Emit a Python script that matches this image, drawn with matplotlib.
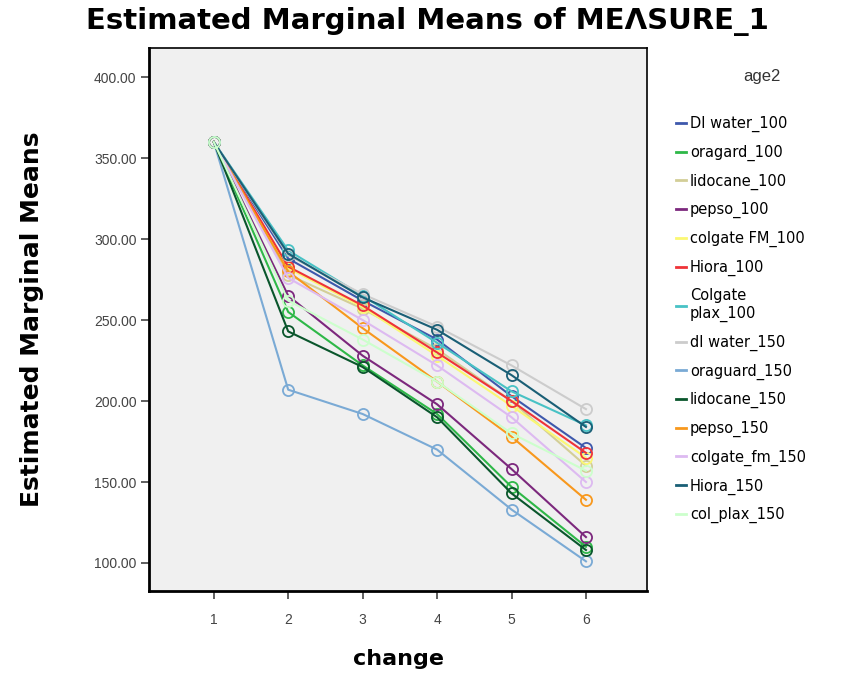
#!/usr/bin/env python3
import matplotlib
matplotlib.use("Agg")
import matplotlib.pyplot as plt
from matplotlib.lines import Line2D

plt.rcParams['font.family'] = ['Liberation Sans', 'DejaVu Sans']

change = [1, 2, 3, 4, 5, 6]

labels = ["DI water_100", "oragard_100", "lidocane_100", "pepso_100",
          "colgate FM_100", "Hiora_100", "Colgate\nplax_100", "dI water_150",
          "oraguard_150", "lidocane_150", "pepso_150", "colgate_fm_150",
          "Hiora_150", "col_plax_150"]

colors = ["#3E58AC", "#2EB848", "#D3CE97", "#7C287D", "#FBF873", "#EF3338",
          "#48C2C5", "#CCCCCC", "#7AAAD5", "#0A562C", "#F8981D", "#DDBAF1",
          "#1A5F76", "#CCFFCC"]

# means, one list per group
di_water_100 = [360, 288, 262, 238, 203, 171]
oragard_100 = [360, 255, 222, 192, 147, 110]
lidocane_100 = [360, 278, 257, 232, 200, 160]
pepso_100 = [360, 265, 228, 198, 158, 116]
colgate_fm_100 = [360, 282, 258, 228, 197, 165]
hiora_100 = [360, 283, 259, 230, 200, 168]
colgate_plax_100 = [360, 293, 265, 236, 206, 185]
di_water_150 = [360, 290, 266, 246, 222, 195]
oraguard_150 = [360, 207, 192, 170, 133, 101]
lidocane_150 = [360, 243, 221, 190, 143, 108]
pepso_150 = [360, 280, 245, 212, 178, 139]
colgate_fm_150 = [360, 276, 250, 222, 190, 150]
hiora_150 = [360, 291, 264, 244, 216, 184]
col_plax_150 = [360, 262, 238, 212, 180, 157]

series = [di_water_100, oragard_100, lidocane_100, pepso_100, colgate_fm_100,
          hiora_100, colgate_plax_100, di_water_150, oraguard_150, lidocane_150,
          pepso_150, colgate_fm_150, hiora_150, col_plax_150]

fig = plt.figure(figsize=(8.59, 6.89), dpi=100)
ax = fig.add_axes([149/859, 1 - 591/689, (647 - 149)/859, (591 - 48)/689])
ax.set_facecolor("#F0F0F0")

for vals, col in zip(series, colors):
  ax.plot(change, vals, color=col, lw=1.5, marker="o", ms=8,
          mfc="none", mec=col, mew=1.3)

ax.set_xlim(0.13, 6.82)
ax.set_ylim(82.7, 418)
ax.set_xticks(change)
ax.set_yticks([100, 150, 200, 250, 300, 350, 400])
ax.set_yticklabels(["%.2f" % v for v in [100, 150, 200, 250, 300, 350, 400]])
ax.tick_params(direction="out", length=6, width=1.2, labelsize=10, colors="#444444")
ax.tick_params(axis="x", pad=10)
ax.tick_params(axis="y", pad=3)
for sp in ["left", "bottom"]:
  ax.spines[sp].set_linewidth(2)
for sp in ["top", "right"]:
  ax.spines[sp].set_linewidth(1.2)

ax.set_xlabel("change", fontsize=16, fontweight="bold", labelpad=16,
              family="DejaVu Sans")
ax.set_ylabel("Estimated Marginal Means", fontsize=18, fontweight="bold",
              labelpad=36, family="DejaVu Sans")
fig.text(427/859, 1 - 22/689, "Estimated Marginal Means of ME\u039bSURE_1",
         ha="center", va="center", fontsize=21, fontweight="bold",
         family="DejaVu Sans")

fig.text(762/859, 1 - 76/689, "age2", ha="center", va="center", fontsize=12,
         color="#333333")
handles = [Line2D([0], [0], color=c, lw=2) for c in colors]
fig.legend(handles, labels, loc="upper left", bbox_to_anchor=(676/859, 1 - 116/689),
           frameon=False, prop={"family": "DejaVu Sans", "size": 10.5},
           handlelength=0.7, handletextpad=0.25,
           labelspacing=0.86, borderpad=0, borderaxespad=0)

fig.savefig("out.png", dpi=100)
